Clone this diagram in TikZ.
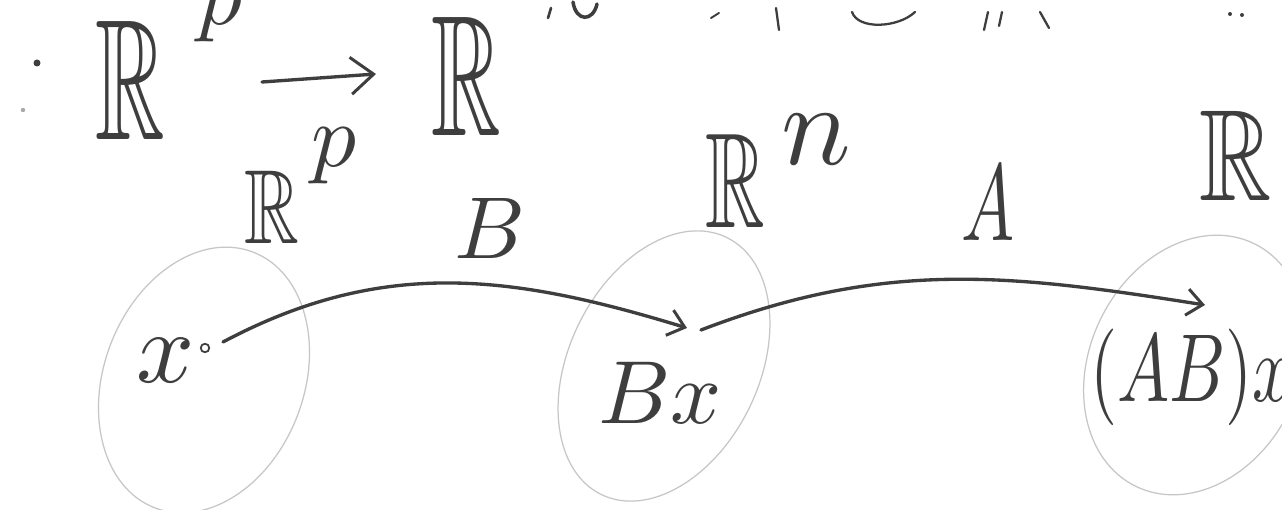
\documentclass[tikz,border=0pt]{standalone}
\usepackage{amssymb}
\usetikzlibrary{arrows.meta}
\definecolor{ink}{HTML}{3E3E3E}
\definecolor{faint}{HTML}{C6C6C6}
\tikzset{
  lbl/.style={text=ink, inner sep=0pt, anchor=base},
  blob/.style={draw=faint, line width=0.7pt},
  mapto/.style={draw=ink, line width=1.9pt, line cap=round,
    -{Straight Barb[length=9pt,width=15pt,line width=1.7pt]}},
  bigmapto/.style={draw=ink, line width=1.9pt, line cap=round,
    -{Straight Barb[length=13pt,width=21pt,line width=1.7pt]}},
  frag/.style={draw=ink, line width=1.5pt, line cap=round},
  dotnode/.style={circle, draw=ink, line width=1pt, inner sep=0pt, minimum size=0.17cm},
}
\newcommand{\sbx}[3]{\scalebox{#1}[#2]{#3}}
\begin{document}
\begin{tikzpicture}[x=0.02cm,y=0.02cm]
\useasboundingbox (0,0) rectangle (1282,-510);
\clip (0,0) rectangle (1282,-510);
\fill[white] (0,0) rectangle (1282,-510);

% cut-off fragments along the top edge
\draw[frag] (551,-8) -- (548,-18);
\draw[frag, line width=2pt] (573,-2) .. controls (576,-22) and (593,-22) .. (597,-4);
\draw[frag, line width=1.1pt] (711,-18) -- (719,-13);
\draw[frag, line width=1.3pt] (776,-8) -- (779,-30);
\draw[frag, line width=1.3pt] (852,-12) .. controls (858,-30) and (898,-28) .. (915,-12);
\draw[frag, line width=1.3pt] (988,-12) -- (984,-30);
\draw[frag, line width=1.3pt] (1002,-12) -- (999,-26);
\draw[frag, line width=1.3pt] (1040,-12) -- (1049,-28);
\fill[ink] (1230,-14) circle [radius=2];
\fill[ink] (1242,-15) circle [radius=2];

% top line: . R^p -> R
\fill[ink] (37,-63) circle [radius=3.5];
\fill[ink!45] (23,-110) circle [radius=2.2];
\node[lbl] (R1) at (130,-140) {\sbx{5.49}{9.8}{$\mathbb{R}$}};
\node[lbl, anchor=north] (p1) at (220,14) {\sbx{5.1}{5.1}{$p$}};
\node[lbl] (R2) at (466,-135) {\sbx{5.49}{9.8}{$\mathbb{R}$}};
\coordinate (tA) at (262,-82);
\coordinate (tB) at (376,-74);
\draw[bigmapto] (tA) -- (tB);

% sets
\draw[blob, rotate around={69:(204,-380)}] (204,-380) ellipse [x radius=137, y radius=100];
\draw[blob, rotate around={64:(664,-366)}] (664,-366) ellipse [x radius=143, y radius=95];
\draw[blob, rotate around={64:(1195,-365)}] (1195,-365) ellipse [x radius=135, y radius=105];

% set labels
\node[lbl] (Rp) at (272,-243) {\sbx{4.32}{6.0}{$\mathbb{R}$}};
\node[lbl, anchor=north] (pp) at (334,-128) {\sbx{5.1}{5.1}{$p$}};
\node[lbl] (Rn) at (735,-227) {\sbx{4.70}{7.7}{$\mathbb{R}$}};
\node[lbl] (nn) at (816,-165) {\sbx{6.6}{6.6}{$n$}};
\node[lbl] (Rr) at (1236,-200) {\sbx{5.70}{7.4}{$\mathbb{R}$}};

% map labels
\node[lbl] (Bl) at (490,-258) {\sbx{5.0}{5.0}{$B$}};
\node[lbl] (Al) at (988,-240) {\sbx{4.03}{6.2}{$A$}};

% points
\node[lbl] (xl) at (166,-382) {\sbx{5.8}{5.8}{$x$}};
\node[dotnode] (xdot) at (205,-348) {};
\node[lbl] (bx) at (660,-423) {\sbx{5.1}{5.1}{$Bx$}};
\node[lbl, anchor=base west] (abx) at (1090,-401) {\sbx{3.96}{5.5}{$(AB)x$}};

% maps
\coordinate (bS) at (223,-342);
\coordinate (bE) at (687,-328);
\coordinate (aS) at (701,-330);
\coordinate (aE) at (1205,-305);
\draw[mapto] (bS) to[out=28,in=163] (bE);
\draw[mapto] (aS) to[out=21,in=171] (aE);
\end{tikzpicture}
\end{document}
